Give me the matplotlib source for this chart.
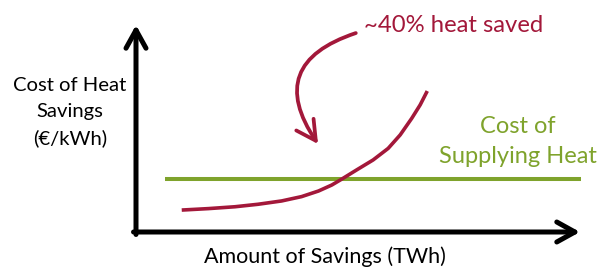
import matplotlib.pyplot as plt
from matplotlib.patches import FancyArrowPatch

# schematic values (x: amount of savings, y: cost, both 0-100)
savings = [10.3, 16.3, 22.3, 27.5, 32.8, 37.3, 41.1, 44.1, 46.3, 49.7,
           53.4, 56.8, 59.5, 62.1, 64.0, 65.6]
saving_cost = [10.6, 11.3, 12.2, 13.4, 15.0, 17.1, 19.8, 22.7, 25.5, 30.0,
               34.8, 40.4, 46.9, 54.9, 61.4, 68.1]
supply_x = [6.5, 100.2]
supply_cost = [25.6, 25.6]

# "~40% heat saved" callout arrow (from, to)
callout_from = (49.5, 96.1)
callout_to = (41.0, 42.5)

y_label_lines = ["Cost of Heat", "Savings", "(€/kWh)"]
supply_lines = ["Cost of", "Supplying Heat"]

red = '#A3183A'
green = '#7FA32C'
W, H = 606, 269

fig = plt.figure(figsize=(W / 100, H / 100), dpi=100)
ax = fig.add_axes([136 / W, 37 / H, 444 / W, 207 / H])
ax.set_xlim(0, 100)
ax.set_ylim(0, 100)
ax.axis('off')

# axes drawn as thick arrows
axis_arrow = dict(arrowstyle='->,head_length=1.3,head_width=0.72', mutation_scale=10,
                  lw=3.6, color='black', shrinkA=0, shrinkB=0)
ax.annotate('', xy=(0, 1), xytext=(0, -0.012), xycoords='axes fraction', arrowprops=axis_arrow)
ax.annotate('', xy=(1, 0), xytext=(-0.0056, 0), xycoords='axes fraction', arrowprops=axis_arrow)

# cost of supplying heat and cost curve of savings
ax.plot(supply_x, supply_cost, color=green, lw=2.9, solid_capstyle='butt', clip_on=False)
ax.plot(savings, saving_cost, color=red, lw=2.6, solid_capstyle='butt',
        solid_joinstyle='round', clip_on=False)

arrow = FancyArrowPatch(callout_from, callout_to, connectionstyle='arc3,rad=0.66',
                        arrowstyle='->,head_length=1.4,head_width=0.75', mutation_scale=10,
                        lw=2.7, color=red, shrinkA=0, shrinkB=0, clip_on=False)
ax.add_patch(arrow)

font = 'Lato'
fig.text(454 / W, 1 - 32 / H, '~40% heat saved', ha='center', va='baseline',
         color=red, fontsize=17.2, family=font)

for i, line in enumerate(y_label_lines):
    fig.text(70 / W, 1 - (91 + 26.5 * i) / H, line, ha='center', va='baseline',
             color='black', fontsize=14.6, family=font)

for i, line in enumerate(supply_lines):
    fig.text(518 / W, 1 - (133 + 30 * i) / H, line, ha='center', va='baseline',
             color=green, fontsize=17, family=font)

fig.text(325 / W, 1 - 263 / H, 'Amount of Savings (TWh)', ha='center', va='baseline',
         color='black', fontsize=15.5, family=font)

fig.savefig('out.png', dpi=100)
